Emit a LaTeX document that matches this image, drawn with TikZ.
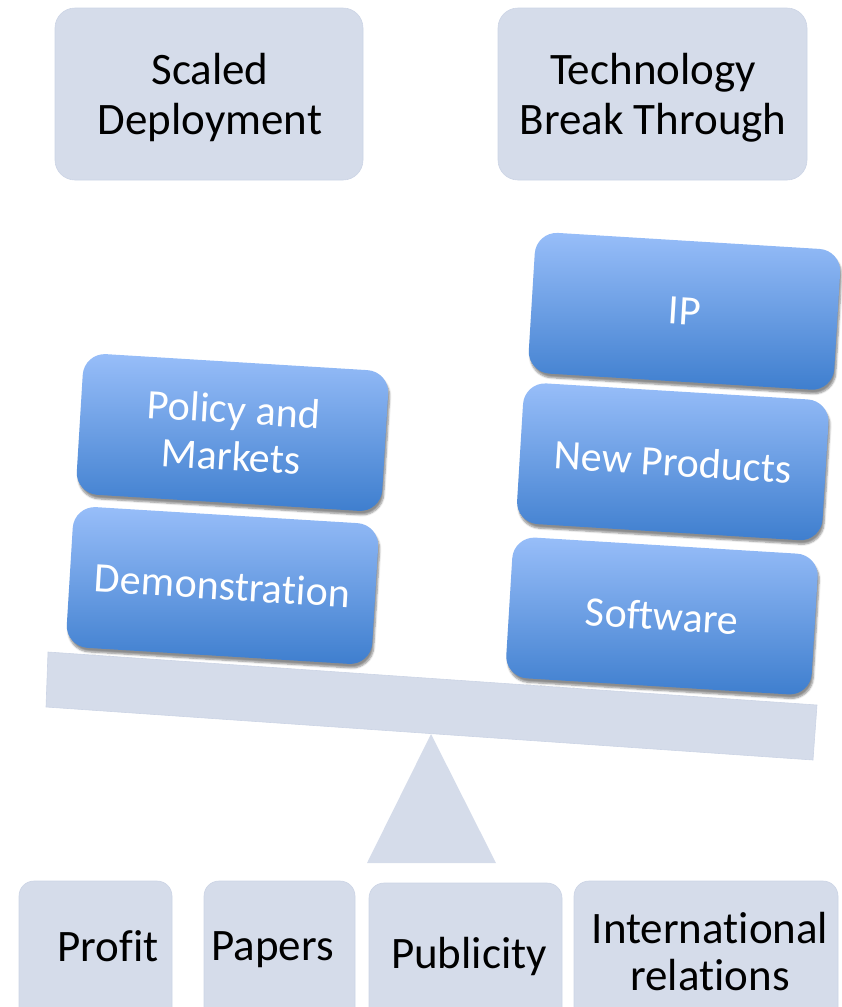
\documentclass[tikz,border=0pt]{standalone}
\usepackage{fontspec}
\setmainfont{Carlito}[RawFeature={-liga;-clig;-dlig}]
\usetikzlibrary{shadows.blur}

\definecolor{boxgray}{RGB}{213,220,234}
\definecolor{boxedge}{RGB}{204,212,229}
\definecolor{bluetop}{RGB}{152,190,249}
\definecolor{bluebot}{RGB}{62,126,206}

\begin{document}
\begin{tikzpicture}[x=1pt,y=-1pt,
  graybox/.style={rectangle, fill=boxgray, draw=boxedge, line width=0.6pt, inner sep=0pt},
  bluebox/.style={rectangle, rounded corners=22pt, minimum width=306pt, minimum height=141pt,
    top color=bluetop, bottom color=bluebot, rotate=-3.5, text=white,
    font=\fontsize{42}{47}\selectfont, align=center, inner sep=0pt,
    blur shadow={shadow xshift=1.5pt, shadow yshift=-4pt, shadow blur steps=6, shadow opacity=45}},
  bigtext/.style={font=\fontsize{45}{50}\selectfont, align=center, inner sep=0pt, text=black},
  basetext/.style={font=\fontsize{45}{50}\selectfont, inner sep=0pt, anchor=base, text=black},
]
\clip (0,0) rectangle (842,1007);

% top boxes
\node[graybox, rounded corners=20pt, minimum width=308pt, minimum height=172pt] (sdbox) at (209,94) {};
\node[bigtext] (sdtext) at (210,97.5) {Scaled\\Deployment};
\node[graybox, rounded corners=20pt, minimum width=309pt, minimum height=172pt] (tbbox) at (652.5,94) {};
\node[bigtext] (tbtext) at (653,97.5) {Technology\\Break Through};

% fulcrum and beam
\path[fill=boxgray] (431,734) -- (496,863) -- (367,863) -- cycle;
\path[fill=boxgray, draw=boxedge, line width=0.6pt] (48,652) -- (817,705) -- (813,760) -- (46,707) -- cycle;

% blue blocks
\node[bluebox] (policy) at (232.5,432.5) {Policy and\\Markets};
\node[bluebox] (demo) at (222.5,585.5) {Demonstration};
\node[bluebox] (ip) at (684.5,311.3) {IP};
\node[bluebox] (newprod) at (672.8,461.8) {New Products};
\node[bluebox] (soft) at (662,616) {Software};

% bottom boxes
\node[graybox, rounded corners=15pt, minimum width=153pt, minimum height=149pt] (profitbox) at (95.5,955.5) {};
\node[graybox, rounded corners=15pt, minimum width=151pt, minimum height=149pt] (papersbox) at (279.5,955.5) {};
\node[graybox, rounded corners=15pt, minimum width=193pt, minimum height=147pt] (pubbox) at (465.5,956.5) {};
\node[graybox, rounded corners=15pt, minimum width=264pt, minimum height=149pt] (intbox) at (706,955.5) {};

\node[basetext] (profit) at (108,961) {Profit};
\node[basetext] (papers) at (272.5,960) {Papers};
\node[basetext] (publicity) at (469,968) {Publicity};
\node[bigtext, font=\fontsize{45}{47}\selectfont] (intl) at (710,951.5) {International\\relations};
\end{tikzpicture}
\end{document}
